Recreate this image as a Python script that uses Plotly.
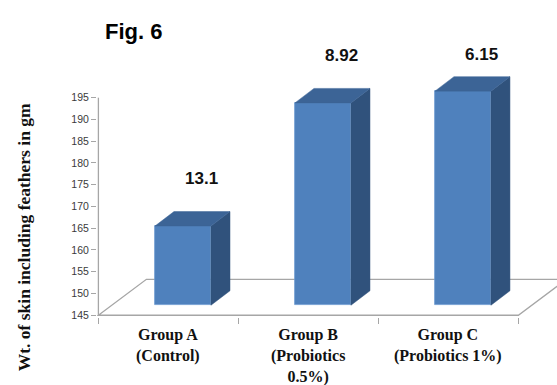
import plotly.graph_objects as go

# Skin weight (incl. feathers) per treatment group
groups = ["Group A<br>(Control)", "Group B<br>(Probiotics<br>0.5%)", "Group C<br>(Probiotics 1%)"]
skin_weight = [163.2, 191.5, 194.2]
label_text = ["13.1", "8.92", "6.15"]
y_ticks = [145, 150, 155, 160, 165, 170, 175, 180, 185, 190, 195]

# Oblique projection of the 3-D column layout (x in category units, y in grams)
Y0 = 145.0
FLOOR_DX, FLOOR_DY = 0.343, 8.26      # depth of the floor
BAR_DX0, BAR_DY0 = 0.104, 2.3         # front face of each column sits this deep
BAR_W = 0.40
SIDE_DX, SIDE_DY = 0.136, 3.33        # column depth

FRONT = "#4F81BD"
SIDE = "#30527C"
TOP = "#3C6496"
GRID = "#A6A6A6"

cats = list(range(len(groups)))
n = len(cats)

fig = go.Figure()

# floor outline, kept underneath the columns
floor_pts = [(-0.5, Y0), (n - 0.5, Y0), (n - 0.5 + FLOOR_DX, Y0 + FLOOR_DY),
             (-0.5 + FLOOR_DX, Y0 + FLOOR_DY)]
floor_path = "M " + " L ".join(f"{x},{y}" for x, y in floor_pts) + " Z"
fig.add_shape(type="path", path=floor_path, xref="x", yref="y",
              line=dict(color=GRID, width=1.3), layer="below")

# vertical axis line
fig.add_shape(type="line", xref="x", yref="y", x0=-0.5, x1=-0.5, y0=Y0, y1=y_ticks[-1],
              line=dict(color=GRID, width=1.3), layer="below")

# front faces of the columns
front_x = [c + BAR_DX0 for c in cats]
fig.add_trace(go.Bar(x=front_x, y=[v - Y0 for v in skin_weight],
                     base=Y0 + BAR_DY0, width=BAR_W,
                     marker=dict(color=FRONT, line=dict(color="#6E9BD1", width=0.8)),
                     showlegend=False, hoverinfo="skip"))

# side and top faces
sx, sy, tx, ty = [], [], [], []
for c, v in zip(front_x, skin_weight):
    xl, xr = c - BAR_W / 2, c + BAR_W / 2
    yb, yt = Y0 + BAR_DY0, v + BAR_DY0
    sx += [xr, xr + SIDE_DX, xr + SIDE_DX, xr, xr, None]
    sy += [yb, yb + SIDE_DY, yt + SIDE_DY, yt, yb, None]
    tx += [xl, xr, xr + SIDE_DX, xl + SIDE_DX, xl, None]
    ty += [yt, yt, yt + SIDE_DY, yt + SIDE_DY, yt, None]
fig.add_trace(go.Scatter(x=sx, y=sy, fill="toself", fillcolor=SIDE, mode="lines",
                         line=dict(color=SIDE, width=0.5),
                         hoverinfo="skip", showlegend=False))
fig.add_trace(go.Scatter(x=tx, y=ty, fill="toself", fillcolor=TOP, mode="lines",
                         line=dict(color=TOP, width=0.5),
                         hoverinfo="skip", showlegend=False))

# value labels above the columns
for c, v, t in zip(cats, skin_weight, label_text):
    fig.add_annotation(x=c + 0.24, y=min(v + 13.3, 205.0), xref="x", yref="y",
                       text=f"<b>{t}</b>", showarrow=False,
                       xanchor="center", yanchor="middle",
                       font=dict(family="Liberation Sans", size=17, color="#111111"))

# category labels
for c, g in zip(cats, groups):
    fig.add_annotation(x=c, y=0, xref="x", yref="paper", yanchor="top",
                       xanchor="center", yshift=-7, text=f"<b>{g}</b>", showarrow=False,
                       font=dict(family="Liberation Serif", size=16, color="#111111"))

fig.add_annotation(x=-0.158, y=0.265, xref="paper", yref="paper",
                   xanchor="center", yanchor="middle",
                   text="<b>Wt. of skin including feathers in gm</b>", textangle=-90,
                   showarrow=False,
                   font=dict(family="Liberation Serif", size=17.5, color="#111111"))

fig.add_annotation(x=0.012, y=0.947, xref="paper", yref="paper",
                   xanchor="left", yanchor="middle",
                   text="<b>Fig. 6</b>", showarrow=False,
                   font=dict(family="Liberation Sans", size=22, color="#000000"))

fig.update_layout(
    width=557, height=385,
    margin=dict(l=97, r=0, t=15, b=68),
    paper_bgcolor="white", plot_bgcolor="white",
    bargap=0,
    xaxis=dict(range=[-0.51, 2.776], tickvals=[-0.5, 0.5, 1.5, 2.5],
               ticktext=["", "", "", ""], ticks="outside", ticklen=6,
               tickcolor=GRID, tickwidth=1.2, showgrid=False, zeroline=False,
               showline=False, fixedrange=True),
    yaxis=dict(range=[144.6, 214], tickvals=y_ticks, ticks="outside", ticklen=5,
               tickcolor=GRID, tickwidth=1.2, showgrid=False, zeroline=False,
               showline=False, tickfont=dict(family="Liberation Sans", size=10.5,
                                             color="#3A3A3A")),
    showlegend=False,
)

fig.write_html("out.html")
